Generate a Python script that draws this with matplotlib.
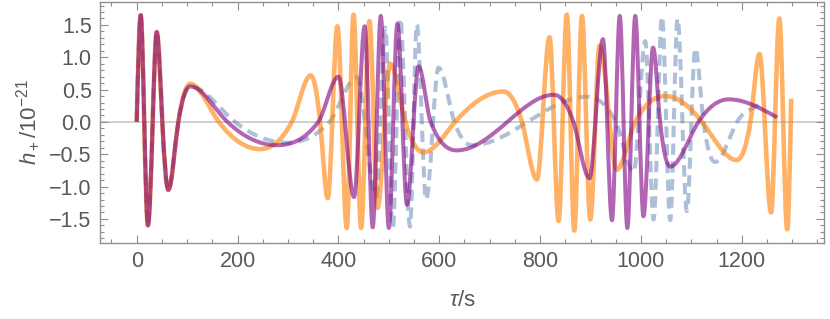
import numpy as np
import matplotlib
matplotlib.use("Agg")
import matplotlib.pyplot as plt
from matplotlib.path import Path
from matplotlib.patches import PathPatch
from matplotlib.ticker import MultipleLocator, FuncFormatter

# ---------------- data ----------------
# shared opening part of all three waveforms (tau in s, h in 1e-21)
common_t = [0, 7.9, 15, 22.2, 31.7, 39.7, 50.8, 62.7, 82.5]
common_h = [0, 1.65, 0, -1.60, 0, 1.39, 0, -1.05, 0]

orange_t = [106, 163, 244.6, 307.5, 345, 363.7, 379, 398, 416.6, 430,
            445, 461.6, 477.5, 502.6, 533, 568.7, 631.5, 727, 764, 793.6,
            818.7, 836.6, 853, 867.7, 883, 899.4, 918, 952, 988.7, 1048,
            1121, 1190, 1217, 1235, 1258, 1274.4, 1290, 1298]
orange_h = [0.59, 0, -0.42, 0, 0.72, 0, -1.18, 1.48, -1.64, 1.66,
            -1.64, 1.56, -1.33, 0.90, 0, -0.47, 0, 0.47, 0, -0.89,
            1.31, -1.53, 1.66, -1.68, 1.64, -1.51, 1.18, -0.74, 0, 0.40,
            0, -0.59, 0, 1.05, -1.40, 1.60, -1.66, 0.36]

purple_t = [106, 180, 278, 360, 400, 431, 452, 468, 484, 500,
            517, 536, 559, 583, 635, 735, 827, 866, 898, 924.6,
            942.5, 958, 973, 988.7, 1005, 1024, 1038, 1058, 1114, 1174,
            1270]
purple_h = [0.55, 0, -0.36, 0, 0.70, -1.16, 1.48, -1.63, 1.64, -1.64,
            1.52, -1.28, 0.86, 0, -0.44, 0, 0.42, 0, -0.87, 1.28,
            -1.52, 1.64, -1.64, 1.64, -1.46, 1.15, 0, -0.69, 0, 0.35,
            0.07]

blue_t = [106, 195, 297.6, 382, 436.5, 475, 493, 508, 522.5, 542,
          555.5, 574, 598.5, 630, 664.7, 775, 893, 950, 985.5, 1008.5,
          1025, 1041.7, 1058, 1072.6, 1091, 1107.7, 1124, 1147, 1190.5, 1240]
blue_h = [0.55, 0, -0.32, 0, 0.69, -1.16, 1.46, -1.64, 1.60, -1.62,
          1.51, -1.20, 0.84, 0, -0.36, 0, 0.39, 0, -0.77, 1.25,
          -1.51, 1.63, -1.52, 1.60, -1.38, 1.14, 0, -0.62, 0, 0.33]

x_ticks = [0, 200, 400, 600, 800, 1000, 1200]
y_ticks = [-1.5, -1.0, -0.5, 0.0, 0.5, 1.0, 1.5]

# ---------------- fonts ----------------
plt.rcParams["font.family"] = ["Liberation Sans", "DejaVu Sans"]
plt.rcParams["mathtext.fontset"] = "custom"
plt.rcParams["mathtext.rm"] = "Liberation Sans"
plt.rcParams["mathtext.it"] = "Liberation Sans:italic"
plt.rcParams["mathtext.bf"] = "Liberation Sans:bold"


def smooth_path(ts, hs):
    """Smooth Bezier path through the read key points (drawn by matplotlib)."""
    t = np.asarray(ts, float)
    h = np.asarray(hs, float)
    n = len(t)
    d = np.diff(h) / np.diff(t)
    m = np.zeros(n)
    for i in range(n):
        if i == 0:
            m[i] = 1.5 * d[0]
        elif i == n - 1:
            m[i] = 1.5 * d[-1]
        else:
            a, b = d[i - 1], d[i]
            if a * b <= 0:
                m[i] = 0.0
            else:
                hm = 2.0 / (1.0 / a + 1.0 / b)
                lim = 3.0 * min(abs(a), abs(b))
                m[i] = np.sign(hm) * min(abs(1.5 * hm), lim)
    verts = [(t[0], h[0])]
    codes = [Path.MOVETO]
    for i in range(n - 1):
        dt = t[i + 1] - t[i]
        verts += [(t[i] + dt / 3, h[i] + m[i] * dt / 3),
                  (t[i + 1] - dt / 3, h[i + 1] - m[i + 1] * dt / 3),
                  (t[i + 1], h[i + 1])]
        codes += [Path.CURVE4] * 3
    return Path(verts, codes)


fig = plt.figure(figsize=(8.3, 3.19), dpi=100)
ax = fig.add_axes([100 / 830, 1 - 243 / 319, 724 / 830, 241 / 319])

ax.set_xlim(-72.8, 1363)
ax.set_ylim(-1.872, 1.855)

ax.axhline(0, color="#c4c4c4", lw=1.1, zorder=1)

series = [
    (common_t + blue_t, common_h + blue_h,
     dict(edgecolor="#5E81B5", alpha=0.5, lw=2.9, linestyle=(0, (2.8, 1.6)))),
    (common_t + orange_t, common_h + orange_h,
     dict(edgecolor="#FF8000", alpha=0.6, lw=3.3, linestyle="-")),
    (common_t + purple_t, common_h + purple_h,
     dict(edgecolor="#800080", alpha=0.6, lw=2.9, linestyle="-")),
]
for k, (tt, hh, st) in enumerate(series):
    p = PathPatch(smooth_path(tt, hh), fill=False, capstyle="butt",
                  joinstyle="round", zorder=2 + k, **st)
    ax.add_patch(p)

# ---------------- frame & ticks ----------------
frame_col = "#8f8f8f"
for s in ax.spines.values():
    s.set_color(frame_col)
    s.set_linewidth(1.0)

ax.set_xticks(x_ticks)
ax.set_yticks(y_ticks)
ax.xaxis.set_minor_locator(MultipleLocator(50))
ax.yaxis.set_minor_locator(MultipleLocator(0.1))
ax.xaxis.set_major_formatter(FuncFormatter(lambda v, p: f"{v:.0f}"))
ax.yaxis.set_major_formatter(
    FuncFormatter(lambda v, p: f"{v:.1f}".replace("-", "\u2212")))

ax.tick_params(which="both", direction="in", top=True, right=True,
               color=frame_col, width=0.8, labelcolor="#595959",
               labelsize=15.5)
ax.tick_params(which="major", length=5.5, pad=6)
ax.tick_params(which="minor", length=3)

ax.set_xlabel(r"$\tau$/s", fontsize=16, color="#595959", labelpad=13)
ax.set_ylabel(r"$h_+/10^{-21}$", fontsize=16, color="#595959", labelpad=5)

fig.savefig("out.png", dpi=100)
